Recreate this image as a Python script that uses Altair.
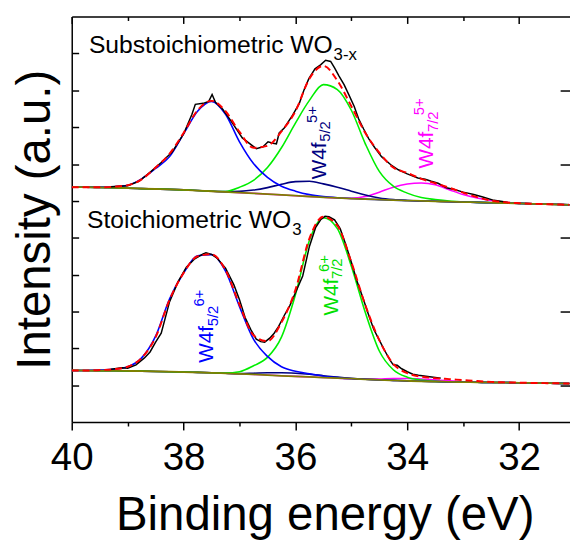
import altair as alt
import pandas as pd

FONT = "Liberation Sans"

# ---------------- data (binding energy in eV, intensity in a.u.) ----------------
E_GRID = [40, 39.75, 39.5, 39.25, 39, 38.75, 38.5, 38.25, 38, 37.75, 37.5, 37.25, 37,
          36.75, 36.5, 36.25, 36, 35.75, 35.5, 35.25, 35, 34.75, 34.5, 34.25, 34,
          33.75, 33.5, 33.25, 33, 32.75, 32.5, 32.25, 32, 31.75, 31.5, 31.25, 31.1]

# Substoichiometric WO3-x (upper spectrum)
UP_BACKGROUND = [238, 238, 237.8, 237.5, 237, 236.6, 236.2, 235.8, 235.3, 234.6, 233.9, 233.2, 232.5,
                 231.8, 231, 230.2, 229.4, 228.6, 227.8, 227.1, 226.5, 225.9, 225.4, 224.9, 224.5,
                 224.1, 223.7, 223.3, 223, 222.6, 222.3, 222, 221.6, 221.2, 220.8, 220.4, 220.1]
UP_W6_52 = [238, 238, 238, 238.5, 240, 246.5, 257, 269, 292, 315, 325, 312, 284,
            262, 248, 239, 234, 230.5, 228.5, 227.3, 226.5, 225.9, 225.4, 224.9, 224.5,
            224.1, 223.7, 223.3, 223, 222.6, 222.3, 222, 221.6, 221.2, 220.8, 220.4, 220.1]
UP_W6_72 = [238, 238, 237.8, 237.5, 237, 236.6, 236.2, 235.8, 235.3, 234.6, 233.9, 233.7, 238,
            245, 258, 278, 303, 326, 342, 337, 316, 282, 254, 239, 232,
            227.5, 225.5, 224, 223.2, 222.6, 222.3, 222, 221.6, 221.2, 220.8, 220.4, 220.1]
UP_W5_52 = [238, 238, 237.8, 237.5, 237, 236.6, 236.2, 235.8, 235.3, 234.6, 233.9, 233.5, 233.8,
            235.1, 237.6, 241, 243.7, 244.1, 241.4, 238, 234, 230, 227, 225.4, 224.6,
            224.1, 223.7, 223.3, 223, 222.6, 222.3, 222, 221.6, 221.2, 220.8, 220.4, 220.1]
UP_W5_72 = [238, 238, 237.8, 237.5, 237, 236.6, 236.2, 235.8, 235.3, 234.6, 233.9, 233.2, 232.5,
            231.8, 231, 230.2, 229.4, 228.6, 227.8, 227.1, 226.7, 228.5, 233, 238, 241.2,
            242.2, 240.5, 235.5, 230.5, 227, 224.5, 222.7, 221.8, 221.2, 220.8, 220.4, 220.1]
UP_FIT = [238, 238, 238, 238.5, 240, 246, 258, 272, 293, 316, 325.5, 315, 294,
          278, 280, 294.5, 315, 348, 361, 346, 320, 293, 273, 258, 252.5,
          246.5, 242, 237.5, 232.5, 228, 224.5, 222.7, 221.8, 221.2, 220.8, 220.4, 220.1]
UP_RAW_E = [39.3, 39.0, 38.8, 38.6, 38.4, 38.2, 38.0, 37.85, 37.79, 37.65, 37.55, 37.49, 37.43,
            37.3, 37.15, 36.95, 36.8, 36.7, 36.58, 36.49, 36.4, 36.34, 36.29, 36.2, 36.05,
            35.93, 35.85, 35.76, 35.65, 35.55, 35.46, 35.37, 35.3, 35.22, 35.13, 35.05, 34.95,
            34.87, 34.78, 34.69, 34.58, 34.46, 34.3, 34.16, 34.0, 33.81, 33.68, 33.57, 33.45,
            33.3, 33.16, 33.0, 32.81, 32.65, 32.45, 32.3, 32.2]
UP_RAW_I = [238.5, 239.5, 244, 253, 263, 274, 292, 312, 322, 323, 325, 332, 324,
            317, 305, 288, 281.5, 277, 279, 284, 282.5, 282, 293, 298, 311,
            323, 336, 348, 358, 362, 366.7, 365.5, 359, 350.7, 342, 332.3, 320,
            307.3, 297, 287.3, 278, 269, 261, 255.7, 251.5, 247.3, 246, 244, 242,
            237.5, 235.7, 233, 230.7, 228, 224.7, 223.5, 222.5]

# Stoichiometric WO3 (lower spectrum)
LO_BACKGROUND = [52.3, 52.2, 52.1, 52, 51.8, 51.6, 51.3, 51, 50.7, 50.3, 49.9, 49.4, 48.9,
                 48.3, 47.6, 46.9, 46.3, 45.7, 45.1, 44.5, 43.9, 43.3, 42.7, 42.2, 41.7,
                 41.3, 41, 40.7, 40.5, 40.3, 40.1, 40, 39.8, 39.6, 39.4, 39.2, 39]
LO_W6_52 = [52.3, 52.3, 52.7, 53.5, 56, 65, 87, 125, 151, 168.5, 169.7, 153, 117,
            84, 66.5, 56, 51.5, 49, 46.5, 45, 43.9, 43.3, 42.7, 42.2, 41.7,
            41.3, 41, 40.7, 40.5, 40.3, 40.1, 40, 39.8, 39.6, 39.4, 39.2, 39]
LO_W6_72 = [52.3, 52.2, 52.1, 52, 51.8, 51.6, 51.3, 51, 50.7, 50.3, 49.9, 49.7, 51,
            57, 65.5, 86, 129, 184, 207, 196, 158, 111, 72, 53, 45.5,
            42.5, 41.2, 40.8, 40.5, 40.3, 40.1, 40, 39.8, 39.6, 39.4, 39.2, 39]
LO_W5_52 = [52.3, 52.2, 52.1, 52, 51.8, 51.6, 51.3, 51, 50.7, 50.3, 49.9, 49.4, 49.1,
            49.5, 50, 50, 49.5, 48.5, 47, 45.5, 44.3, 43.4, 42.7, 42.2, 41.7,
            41.3, 41, 40.7, 40.5, 40.3, 40.1, 40, 39.8, 39.6, 39.4, 39.2, 39]
LO_W5_72 = [52.3, 52.2, 52.1, 52, 51.8, 51.6, 51.3, 51, 50.7, 50.3, 49.9, 49.4, 48.9,
            48.3, 47.6, 46.9, 46.3, 45.7, 45.1, 44.5, 43.9, 43.5, 43.7, 44.2, 44.2,
            43.7, 42.7, 41.7, 40.9, 40.4, 40.1, 40, 39.8, 39.6, 39.4, 39.2, 39]
LO_FIT = [52.3, 52.2, 52.7, 53.5, 56, 65, 86, 124, 151, 168, 170, 154, 119,
          88, 82, 101, 134, 186, 208, 199, 162, 118.5, 83, 59, 49.5,
          46, 44.5, 43.5, 42.5, 41.5, 40.7, 40.2, 39.9, 39.6, 39.4, 39.2, 39]
LO_RAW_E = [39.3, 39.1, 39.0, 38.85, 38.7, 38.6, 38.5, 38.4, 38.25, 38.1, 37.95, 37.8, 37.65,
            37.6, 37.5, 37.4, 37.25, 37.1, 37.0, 36.9, 36.8, 36.7, 36.62, 36.55, 36.46,
            36.38, 36.3, 36.2, 36.1, 36.0, 35.87, 35.75, 35.64, 35.55, 35.47, 35.4, 35.3,
            35.2, 35.1, 35.0, 34.9, 34.8, 34.7, 34.6, 34.5, 34.4, 34.3, 34.25, 34.18,
            34.1, 34.0, 33.9, 33.8, 33.6, 33.4]
LO_RAW_I = [53.5, 55, 54.5, 58, 65, 71, 81, 90, 122, 142, 157, 165.5, 170.5,
            171.5, 170, 166, 156, 139, 124, 106, 94, 84, 81.5, 81, 85,
            90, 97, 108, 118, 131, 148, 178, 197, 205, 208.5, 208, 205,
            196, 180, 162, 143, 127, 110, 94, 83, 72, 62, 58, 57.5,
            54, 51, 48.5, 47.5, 46, 44.5]

# axis ticks
X_MAJOR = [40, 38, 36, 34, 32]
X_MINOR = [39, 37, 35, 33]
Y_TICKS = [37.4, 74.7, 112.1, 149.5, 186.8, 224.2, 261.5, 298.9, 336.3, 373.6]
Y_TICKS_RIGHT = [37.4, 112.1, 186.8, 261.5, 336.3]

# annotation texts
ANN_TEXT = ["Substoichiometric WO", "3-x", "Stoichiometric WO", "3"]
ANN_E = [39.693, 35.317, 39.728, 36.058]
ANN_I = [374, 367, 197, 190]
ANN_SIZE = [25, 17, 25, 17]

PEAK_TEXT = ["W4f", "5/2", "5+", "W4f", "7/2", "5+", "W4f", "5/2", "6+", "W4f", "7/2", "6+"]
PEAK_E = [35.458, 35.388, 35.608, 33.535, 33.447, 33.694, 37.470, 37.382, 37.637, 35.247, 35.176, 35.405]
PEAK_I = [246, 284, 303, 257, 294, 311, 60, 97, 117, 108, 145, 152]
PEAK_SIZE = [21, 15, 15, 21, 15, 15, 21, 15, 15, 21, 15, 15]
PEAK_COLOR = ["#000080"] * 3 + ["#FF00FF"] * 3 + ["#0000FF"] * 3 + ["#00E000"] * 3

# ---------------- chart ----------------
W, H = 505, 411
XS = alt.Scale(domain=[40, 31.09], nice=False, zero=False)
YS = alt.Scale(domain=[0, 411], nice=False, zero=False)

common_axis = dict(grid=False, tickColor="black", tickWidth=1.5, domainColor="black",
                   domainWidth=1.5, labelFont=FONT, titleFont=FONT)

ax_bottom_major = alt.Axis(orient="bottom", values=X_MAJOR, tickSize=8, domain=True,
                           labels=True, format="d", labelFontSize=39, labelColor="black",
                           labelPadding=40, labelBaseline="alphabetic", labelFlush=False,
                           labelOverlap=False, title="Binding energy (eV)", titleFontSize=48,
                           titleFontWeight="normal", titleColor="black", titleX=256.4,
                           titleY=109, titleBaseline="alphabetic", titleAlign="center",
                           **common_axis)
ax_bottom_minor = alt.Axis(orient="bottom", values=X_MINOR, tickSize=4, domain=False,
                           labels=False, title=None, **common_axis)
ax_top_major = alt.Axis(orient="bottom", offset=-H, values=X_MAJOR, tickSize=7, domain=True,
                        labels=False, title=None, **common_axis)
ax_top_minor = alt.Axis(orient="bottom", offset=-H, values=X_MINOR, tickSize=4, domain=False,
                        labels=False, title=None, **common_axis)
ax_left_main = alt.Axis(orient="left", ticks=False, labels=False, domain=True,
                        title="Intensity (a.u.)", titleFontSize=48, titleFontWeight="normal",
                        titleColor="black", titleAngle=270, titleX=-22.6, titleY=205.5,
                        titleBaseline="alphabetic", titleAlign="center", **common_axis)
ax_left_ticks = alt.Axis(orient="right", offset=-W, values=Y_TICKS, tickSize=7, labels=False,
                         domain=False, title=None, **common_axis)
ax_right_ticks = alt.Axis(orient="left", offset=-W, values=Y_TICKS_RIGHT, tickSize=10,
                          labels=False, domain=False, title=None, **common_axis)


def curve(xs, ys, color, width=1.6, dash=None, interp="monotone", xaxis=None, yaxis=None):
    df = pd.DataFrame({"E": xs, "I": ys})
    kw = dict(color=color, strokeWidth=width, interpolate=interp, clip=True)
    if dash is not None:
        kw["strokeDash"] = dash
    return alt.Chart(df).mark_line(**kw).encode(
        x=alt.X("E:Q", scale=XS, axis=xaxis),
        y=alt.Y("I:Q", scale=YS, axis=yaxis),
    )


layers = [
    curve(E_GRID, UP_W5_72, "#FF00FF", xaxis=ax_bottom_major, yaxis=ax_left_main),
    curve(E_GRID, UP_W5_52, "#000080", xaxis=ax_bottom_minor, yaxis=ax_left_ticks),
    curve(E_GRID, UP_W6_72, "#00EE00", xaxis=ax_top_major, yaxis=ax_right_ticks),
    curve(E_GRID, UP_W6_52, "#0000FF", xaxis=ax_top_minor),
    curve(E_GRID, LO_W5_72, "#FF00FF"),
    curve(E_GRID, LO_W5_52, "#000080"),
    curve(E_GRID, LO_W6_72, "#00EE00"),
    curve(E_GRID, LO_W6_52, "#0000FF"),
    curve(E_GRID, UP_BACKGROUND, "#808000", width=1.8),
    curve(E_GRID, LO_BACKGROUND, "#808000", width=1.8),
    curve(UP_RAW_E, UP_RAW_I, "#000000", width=1.5, interp="linear"),
    curve(LO_RAW_E, LO_RAW_I, "#000000", width=1.5, interp="linear"),
    curve(E_GRID, UP_FIT, "#FF0000", width=2, dash=[7, 4]),
    curve(E_GRID, LO_FIT, "#FF0000", width=2, dash=[7, 4]),
]

ann_df = pd.DataFrame({"text": ANN_TEXT, "E": ANN_E, "I": ANN_I, "size": ANN_SIZE})
ann = alt.Chart(ann_df).mark_text(font=FONT, align="left", baseline="alphabetic",
                                  color="black").encode(
    x=alt.X("E:Q", scale=XS, axis=None),
    y=alt.Y("I:Q", scale=YS, axis=None),
    text="text:N",
    size=alt.Size("size:Q", scale=None),
)

peak_df = pd.DataFrame({"text": PEAK_TEXT, "E": PEAK_E, "I": PEAK_I, "size": PEAK_SIZE,
                        "color": PEAK_COLOR})
peaks = alt.Chart(peak_df).mark_text(font=FONT, align="left", baseline="alphabetic",
                                     angle=270).encode(
    x=alt.X("E:Q", scale=XS, axis=None),
    y=alt.Y("I:Q", scale=YS, axis=None),
    text="text:N",
    size=alt.Size("size:Q", scale=None),
    color=alt.Color("color:N", scale=None),
)

chart = alt.layer(*layers, ann, peaks).resolve_axis(
    x="independent", y="independent"
).properties(
    width=W, height=H, autosize="none",
    padding={"left": 64.6, "top": 5, "right": 0, "bottom": 122},
    background="white",
).configure_view(stroke="transparent")

chart.save("out.html", embed_options={"renderer": "svg", "actions": False})
